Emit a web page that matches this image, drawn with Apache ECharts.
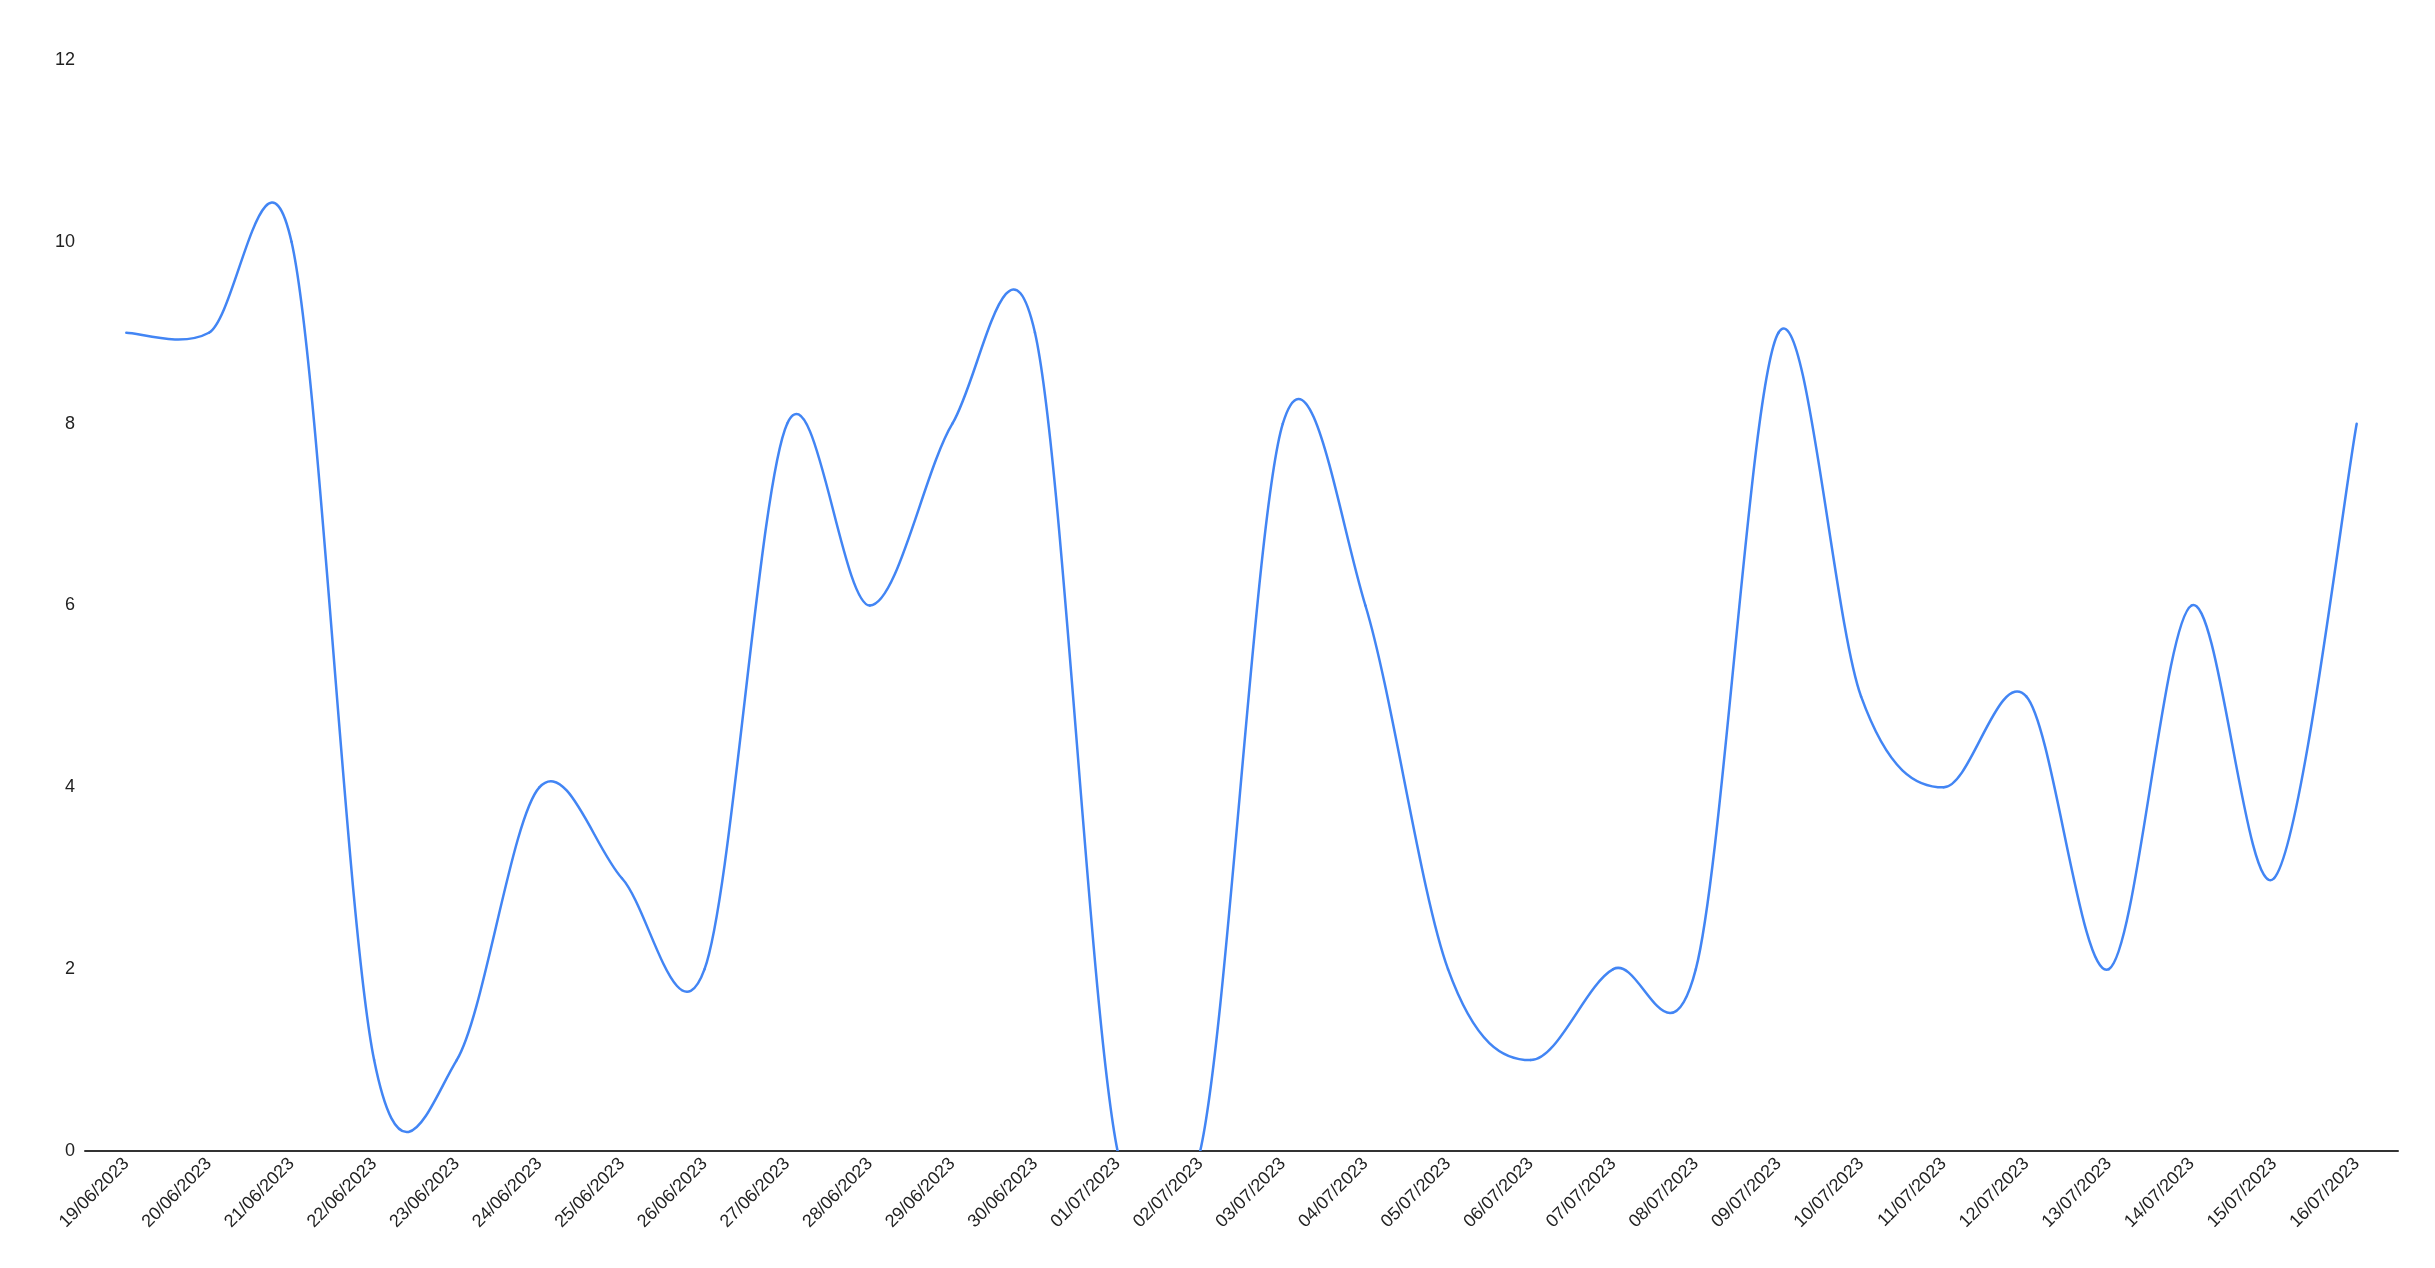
<!DOCTYPE html>
<html>
<head>
<meta charset="utf-8">
<style>
  html, body { margin: 0; padding: 0; background: #fff; }
  #chart { width: 2435px; height: 1268px; }
</style>
<script src="https://cdn.jsdelivr.net/npm/echarts@6/dist/echarts.min.js"></script>
</head>
<body>
<div id="chart"></div>
<script>
const categories = [
  '19/06/2023','20/06/2023','21/06/2023','22/06/2023','23/06/2023','24/06/2023','25/06/2023',
  '26/06/2023','27/06/2023','28/06/2023','29/06/2023','30/06/2023','01/07/2023','02/07/2023',
  '03/07/2023','04/07/2023','05/07/2023','06/07/2023','07/07/2023','08/07/2023','09/07/2023',
  '10/07/2023','11/07/2023','12/07/2023','13/07/2023','14/07/2023','15/07/2023','16/07/2023'
];
const values = [9, 9, 10, 1, 1, 4, 3, 2, 8, 6, 8, 9, 0, 0, 8, 6, 2, 1, 2, 2, 9, 5, 4, 5, 2, 6, 3, 8];
const yTicks = { min: 0, max: 12, interval: 2 };

const lineColor = '#4285F4';
const n = values.length;

// Catmull-Rom style smoothing (curve passes through every data point),
// each segment positioned through the chart's own axes via api.coord.
function renderSegment(params, api) {
  const i = params.dataIndex;
  if (i >= n - 1) return null;
  const idx = k => Math.max(0, Math.min(n - 1, k));
  const p = k => api.coord([idx(k), values[idx(k)]]);
  const p0 = p(i - 1), p1 = p(i), p2 = p(i + 1), p3 = p(i + 2);
  return {
    type: 'bezierCurve',
    shape: {
      x1: p1[0], y1: p1[1],
      x2: p2[0], y2: p2[1],
      cpx1: p1[0] + (p2[0] - p0[0]) / 6,
      cpy1: p1[1] + (p2[1] - p0[1]) / 6,
      cpx2: p2[0] - (p3[0] - p1[0]) / 6,
      cpy2: p2[1] - (p3[1] - p1[1]) / 6
    },
    style: { fill: null, stroke: lineColor, lineWidth: 2.5, lineCap: 'round', lineJoin: 'round' },
    silent: true
  };
}

const chart = echarts.init(document.getElementById('chart'), null, { renderer: 'canvas' });
chart.setOption({
  animation: false,
  backgroundColor: '#ffffff',
  grid: { left: 85, right: 37, top: 60, bottom: 117 },
  xAxis: {
    type: 'category',
    data: categories,
    boundaryGap: true,
    axisLine: { show: true, lineStyle: { color: '#333333', width: 2 } },
    axisTick: { show: false },
    axisLabel: {
      interval: 0,
      rotate: 45,
      margin: 10,
      color: '#222222',
      fontSize: 18,
      fontFamily: 'Liberation Sans, Arial, sans-serif'
    },
    splitLine: { show: false }
  },
  yAxis: {
    type: 'value',
    min: yTicks.min,
    max: yTicks.max,
    interval: yTicks.interval,
    axisLine: { show: false },
    axisTick: { show: false },
    splitLine: { show: false },
    axisLabel: {
      margin: 10,
      color: '#222222',
      fontSize: 18,
      fontFamily: 'Liberation Sans, Arial, sans-serif'
    }
  },
  series: [{
    type: 'custom',
    coordinateSystem: 'cartesian2d',
    clip: true,
    data: values.map((v, i) => [i, v]),
    encode: { x: 0, y: 1 },
    renderItem: renderSegment
  }]
});
</script>
</body>
</html>
